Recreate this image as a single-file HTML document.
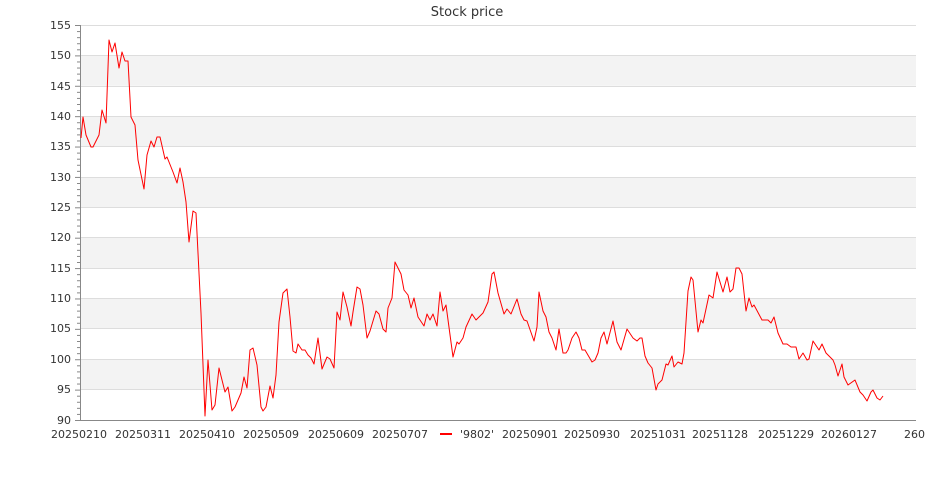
<!DOCTYPE html>
<html><head><meta charset="utf-8"><style>
html,body{margin:0;padding:0;background:#fff;width:935px;height:500px;overflow:hidden}
svg text{font-family:"DejaVu Sans","Liberation Sans",sans-serif;fill:#333}
</style></head><body>
<svg width="935" height="500" xmlns="http://www.w3.org/2000/svg">
<text x="467" y="16" font-size="13" text-anchor="middle">Stock price</text>
<g fill="#f3f3f3">
<rect x="80" y="55.4" width="836" height="30.4"/>
<rect x="80" y="116.2" width="836" height="30.4"/>
<rect x="80" y="177" width="836" height="30.4"/>
<rect x="80" y="237.7" width="836" height="30.4"/>
<rect x="80" y="298.5" width="836" height="30.4"/>
<rect x="80" y="359.3" width="836" height="30.4"/>
</g>
<g stroke="#dddddd" stroke-width="1">
<line x1="80" x2="916" y1="25.5" y2="25.5"/><line x1="80" x2="916" y1="55.5" y2="55.5"/><line x1="80" x2="916" y1="86.5" y2="86.5"/><line x1="80" x2="916" y1="116.5" y2="116.5"/><line x1="80" x2="916" y1="146.5" y2="146.5"/><line x1="80" x2="916" y1="177.5" y2="177.5"/><line x1="80" x2="916" y1="207.5" y2="207.5"/><line x1="80" x2="916" y1="237.5" y2="237.5"/><line x1="80" x2="916" y1="268.5" y2="268.5"/><line x1="80" x2="916" y1="298.5" y2="298.5"/><line x1="80" x2="916" y1="328.5" y2="328.5"/><line x1="80" x2="916" y1="359.5" y2="359.5"/><line x1="80" x2="916" y1="389.5" y2="389.5"/>
</g>
<g stroke="#888" stroke-width="1">
<line x1="80.5" y1="25" x2="80.5" y2="420"/>
<line x1="80" y1="420.5" x2="916" y2="420.5"/>
</g>
<g id="ticks" stroke="#888"></g>
<g font-size="11" text-anchor="end">
<text x="71" y="29">155</text><text x="71" y="59">150</text><text x="71" y="90">145</text><text x="71" y="120">140</text><text x="71" y="150">135</text><text x="71" y="181">130</text><text x="71" y="211">125</text><text x="71" y="241">120</text><text x="71" y="272">115</text><text x="71" y="302">110</text><text x="71" y="332">105</text><text x="71" y="363">100</text><text x="71" y="393">95</text><text x="71" y="424">90</text>
</g>
<g font-size="11" text-anchor="middle">
<text x="79" y="438">20250210</text><text x="143" y="438">20250311</text><text x="207" y="438">20250410</text><text x="271" y="438">20250509</text><text x="336" y="438">20250609</text><text x="400" y="438">20250707</text><text x="530" y="438">20250901</text><text x="592" y="438">20250930</text><text x="658" y="438">20251031</text><text x="720" y="438">20251128</text><text x="786" y="438">20251229</text><text x="849" y="438">20260127</text><text x="904" y="438" text-anchor="start">260</text>
</g>
<line x1="440" x2="452" y1="434" y2="434" stroke="#f00" stroke-width="2"/>
<text x="460" y="438" font-size="11">'9802'</text>
<polyline fill="none" stroke="#f00" stroke-width="1" stroke-linejoin="round" points="81,138 83,117 86,135 91,147 93,147 99,135 102,110 106,123 109,40 112,52 115,43 119,68 122,52 125,61 128,61 131,117 135,125 138,160 144,189 147,155 151,141 154,147 157,137 160,137 165,159 167,157 171,167 173,172 177,183 180,168 183,182 186,202 189,242 193,211 196,213 201,313 205,416 208,360 212,410 215,405 219,368 222,380 225,392 228,387 232,411 235,407 238,400 241,393 244,377 247,388 250,350 253,348 257,365 261,407 263,411 266,407 270,386 273,398 276,375 279,322 283,293 287,289 290,317 293,351 296,353 298,344 302,350 305,350 308,355 311,358 314,364 318,338 322,369 327,357 330,359 334,368 337,312 340,320 343,292 347,307 351,326 353,312 357,287 360,289 363,305 367,338 370,331 376,311 379,314 383,329 386,332 388,308 392,298 395,262 401,274 404,290 408,295 411,308 414,298 418,317 424,326 427,314 430,320 433,314 437,326 440,292 443,311 446,305 453,357 457,342 459,344 463,338 466,327 472,314 476,320 483,313 488,302 492,274 494,272 498,293 504,314 507,309 511,314 517,299 521,314 524,320 527,321 534,341 537,327 539,292 543,311 546,317 549,332 552,338 556,350 559,329 563,353 566,353 568,350 572,338 576,332 579,338 582,350 585,350 592,362 595,360 598,353 601,338 604,332 607,344 613,321 617,342 621,350 627,329 629,332 633,338 637,341 640,338 642,338 645,356 648,363 652,368 656,390 658,384 662,380 666,364 668,365 672,356 674,367 678,362 682,364 684,353 688,291 691,277 693,280 698,332 701,320 703,323 709,295 713,298 717,272 723,292 727,277 730,292 733,289 736,268 739,268 742,274 746,311 749,298 752,307 754,305 762,320 768,320 771,323 774,317 778,333 783,344 787,344 791,347 796,347 799,359 803,353 807,360 809,359 813,341 819,350 822,344 826,353 833,360 835,365 838,376 842,364 844,377 848,385 855,380 860,392 863,395 867,401 871,392 873,390 877,398 880,400 883,396"/>
</svg>
<script>
var g=document.getElementById('ticks'),s='';
for(var v=90;v<=155;v++){var y=420-(v-90)*395/65;var l=(v%5==0)?5:3;s+='<line x1="'+(80-l)+'" x2="80" y1="'+(y+0.5)+'" y2="'+(y+0.5)+'"/>';}
g.innerHTML=s;
</script>
</body></html>
